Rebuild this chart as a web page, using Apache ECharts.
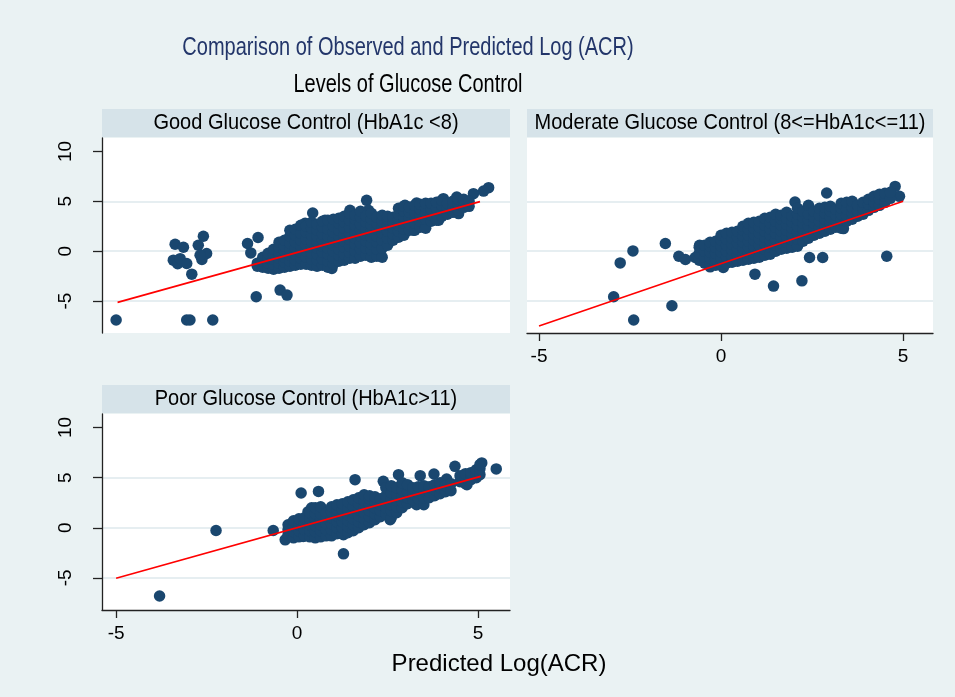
<!DOCTYPE html>
<html>
<head>
<meta charset="utf-8">
<script src="https://cdn.jsdelivr.net/npm/echarts@6/dist/echarts.min.js"></script>
<style>html,body{margin:0;padding:0;background:#EAF2F3;}#chart{width:955px;height:697px;}</style>
</head>
<body>
<div id="chart"></div>
<script>
// ---------- DATA ----------
const mainTitle = "Comparison of Observed and Predicted Log (ACR)";
const subTitle = "Levels of Glucose Control";
const xAxisTitle = "Predicted Log(ACR)";
const panelTitles = ["Good Glucose Control (HbA1c <8)", "Moderate Glucose Control (8<=HbA1c<=11)", "Poor Glucose Control (HbA1c>11)"];
const xTickValues = [-5, 0, 5];
const yTickValues = [-5, 0, 5, 10];
const gridValues = [-5, 0, 5];

// observed vs predicted (x = predicted, y = observed)
const goodObs = [
[-5.0,-6.9],[-3.37,0.7],[-3.14,0.4],[-3.42,-0.9],[-3.3,-1.25],[-3.23,-0.75],[-3.05,-1.23],[-2.91,-2.3],
[-3.05,-6.9],[-2.96,-6.9],[-2.33,-6.9],[-2.59,1.5],[-2.73,0.6],[-2.5,-0.23],[-2.63,-0.83],[-2.68,-0.4],
[-1.37,0.77],[-1.08,1.37],[-1.28,-0.17],[-1.13,-4.57],[-0.47,-3.9],[-0.28,-4.4],[0.43,3.83],[1.92,5.1],
[5.29,6.37],[5.15,6.03],[4.87,5.77],[4.46,3.77],[3.91,3.1],[0.96,-1.73],[3.21,2.1],[1.6,-0.57],[2.29,-0.4],
[1.97,4.1],[1.46,4.1],[2.98,4.6],[3.3,4.83],[4.04,5.27],[4.41,5.43],[0.77,3.1],[0.22,2.8],
[-1.1,-1.2],[-1.1,-1.5],
[-0.95,-1.6],[-0.95,-1.0],[-0.95,-0.6],
[-0.8,-1.7],[-0.8,-1.2],[-0.8,-0.7],[-0.8,-0.2],
[-0.65,-1.8],[-0.65,-1.3],[-0.65,-0.8],[-0.65,-0.3],[-0.65,0.2],
[-0.5,-1.7],[-0.5,-1.2],[-0.5,-0.7],[-0.5,-0.2],[-0.5,0.4],[-0.5,0.9],
[-0.35,-1.6],[-0.35,-1.1],[-0.35,-0.6],[-0.35,0.0],[-0.35,0.5],[-0.35,1.1],
[-0.2,-1.5],[-0.2,-1.0],[-0.2,-0.4],[-0.2,0.2],[-0.2,0.8],[-0.2,1.5],[-0.2,2.1],
[-0.05,-1.4],[-0.05,-0.9],[-0.05,-0.3],[-0.05,0.3],[-0.05,0.9],[-0.05,1.6],[-0.05,2.2],
[0.1,-1.3],[0.1,-0.7],[0.1,-0.1],[0.1,0.5],[0.1,1.1],[0.1,1.8],[0.1,2.6],
[0.25,-1.3],[0.25,-0.6],[0.25,0.0],[0.25,0.6],[0.25,1.2],[0.25,1.9],[0.25,2.5],
[0.4,-1.4],[0.4,-0.8],[0.4,-0.2],[0.4,0.4],[0.4,1.0],[0.4,1.6],[0.4,2.3],[0.4,2.9],
[0.55,-1.5],[0.55,-0.9],[0.55,-0.3],[0.55,0.3],[0.55,0.9],[0.55,1.5],[0.55,2.1],[0.55,2.7],
[0.7,-1.4],[0.7,-0.8],[0.7,-0.1],[0.7,0.5],[0.7,1.1],[0.7,1.7],[0.7,2.4],[0.7,3.0],
[0.85,-1.6],[0.85,-1.0],[0.85,-0.3],[0.85,0.3],[0.85,0.9],[0.85,1.5],[0.85,2.2],[0.85,3.1],
[1.0,-1.3],[1.0,-0.7],[1.0,0.0],[1.0,0.6],[1.0,1.2],[1.0,1.9],[1.0,2.5],[1.0,3.2],
[1.15,-1.0],[1.15,-0.4],[1.15,0.2],[1.15,0.9],[1.15,1.5],[1.15,2.1],[1.15,2.8],[1.15,3.3],
[1.3,-0.9],[1.3,-0.3],[1.3,0.4],[1.3,1.0],[1.3,1.6],[1.3,2.3],[1.3,2.9],[1.3,3.5],
[1.45,-0.7],[1.45,-0.1],[1.45,0.5],[1.45,1.2],[1.45,1.8],[1.45,2.4],[1.45,3.1],[1.45,3.8],
[1.6,-0.7],[1.6,0.0],[1.6,0.7],[1.6,1.3],[1.6,1.9],[1.6,2.6],[1.6,3.2],[1.6,3.6],
[1.75,-0.5],[1.75,0.2],[1.75,0.8],[1.75,1.5],[1.75,2.1],[1.75,2.7],[1.75,3.4],[1.75,4.0],
[1.9,-0.4],[1.9,0.3],[1.9,1.0],[1.9,1.6],[1.9,2.2],[1.9,2.9],[1.9,3.5],
[2.05,-0.6],[2.05,0.1],[2.05,0.7],[2.05,1.4],[2.05,2.0],[2.05,2.6],[2.05,3.2],[2.05,3.8],
[2.2,-0.5],[2.2,0.2],[2.2,0.9],[2.2,1.5],[2.2,2.2],[2.2,2.8],[2.2,3.4],
[2.35,-0.6],[2.35,0.3],[2.35,1.1],[2.35,1.8],[2.35,2.4],[2.35,3.0],[2.35,3.6],
[2.5,0.6],[2.5,1.3],[2.5,2.0],[2.5,2.6],[2.5,3.2],[2.5,3.5],
[2.65,1.1],[2.65,1.7],[2.65,2.3],[2.65,2.9],[2.65,3.4],
[2.8,1.4],[2.8,2.0],[2.8,2.6],[2.8,3.2],[2.8,3.7],[2.8,4.3],
[2.95,1.6],[2.95,2.2],[2.95,2.8],[2.95,3.4],[2.95,4.0],[2.95,4.5],
[3.1,2.1],[3.1,2.7],[3.1,3.3],[3.1,3.9],[3.1,4.4],
[3.25,2.1],[3.25,2.8],[3.25,3.4],[3.25,3.9],[3.25,4.6],
[3.4,2.4],[3.4,3.0],[3.4,3.6],[3.4,4.2],[3.4,4.7],
[3.55,2.3],[3.55,3.2],[3.55,3.8],[3.55,4.4],[3.55,4.8],
[3.7,3.0],[3.7,3.6],[3.7,4.2],[3.7,4.8],
[3.85,3.1],[3.85,3.7],[3.85,4.3],[3.85,4.9],
[4.0,3.5],[4.0,4.1],[4.0,4.6],[4.0,5.1],
[4.15,3.7],[4.15,4.3],[4.15,4.8],
[4.3,3.9],[4.3,4.5],[4.3,5.0],
[4.45,4.1],[4.45,4.7],[4.45,5.2],
[4.6,4.4],[4.6,4.9],[4.6,5.2],
[4.75,4.5],[4.75,5.0]
];
const goodFit = [[-4.96,-5.13],[5.05,4.97]];

const moderateObs = [
[-2.95,-4.57],[-2.77,-1.17],[-2.42,0.03],[-2.4,-6.9],[-1.53,0.77],[-1.35,-5.47],[-1.16,-0.5],[-0.98,-0.83],
[2.9,5.83],[4.78,6.5],[4.9,5.5],[4.55,-0.5],[2.43,-0.63],[2.79,-0.63],[2.22,-2.97],[1.44,-3.5],[0.93,-2.3],
[0.06,-1.63],[-0.3,-1.57],[2.03,4.93],[-0.71,-0.63],[-0.59,0.6],[3.36,2.27],[3.87,3.77],
[-0.6,-0.9],[-0.6,-0.2],[-0.6,0.4],
[-0.45,-1.2],[-0.45,-0.6],[-0.45,0.0],[-0.45,0.6],
[-0.3,-1.3],[-0.3,-0.7],[-0.3,-0.1],[-0.3,0.5],[-0.3,0.9],
[-0.15,-1.4],[-0.15,-0.8],[-0.15,-0.2],[-0.15,0.4],[-0.15,1.0],
[0.0,-1.3],[0.0,-0.7],[0.0,-0.1],[0.0,0.5],[0.0,1.1],[0.0,1.6],
[0.15,-1.2],[0.15,-0.6],[0.15,0.0],[0.15,0.6],[0.15,1.2],[0.15,1.8],
[0.3,-1.1],[0.3,-0.5],[0.3,0.1],[0.3,0.7],[0.3,1.3],[0.3,1.9],
[0.45,-1.0],[0.45,-0.4],[0.45,0.2],[0.45,0.8],[0.45,1.4],[0.45,2.0],
[0.6,-0.9],[0.6,-0.3],[0.6,0.3],[0.6,0.9],[0.6,1.5],[0.6,2.1],[0.6,2.5],
[0.75,-0.8],[0.75,-0.2],[0.75,0.4],[0.75,1.0],[0.75,1.6],[0.75,2.2],[0.75,2.8],
[0.9,-0.7],[0.9,-0.1],[0.9,0.5],[0.9,1.1],[0.9,1.7],[0.9,2.3],[0.9,2.9],
[1.05,-0.6],[1.05,0.0],[1.05,0.6],[1.05,1.2],[1.05,1.8],[1.05,2.4],[1.05,3.0],
[1.2,-0.4],[1.2,0.2],[1.2,0.8],[1.2,1.4],[1.2,2.0],[1.2,2.6],[1.2,3.3],
[1.35,-0.3],[1.35,0.4],[1.35,1.0],[1.35,1.6],[1.35,2.2],[1.35,2.8],[1.35,3.4],
[1.5,0.0],[1.5,0.6],[1.5,1.2],[1.5,1.8],[1.5,2.4],[1.5,3.0],[1.5,3.7],
[1.65,0.2],[1.65,0.8],[1.65,1.4],[1.65,2.0],[1.65,2.6],[1.65,3.2],[1.65,3.6],
[1.8,0.3],[1.8,0.9],[1.8,1.5],[1.8,2.1],[1.8,2.7],[1.8,3.3],[1.8,3.9],
[1.95,0.4],[1.95,1.1],[1.95,1.7],[1.95,2.3],[1.95,2.9],[1.95,3.5],
[2.1,0.5],[2.1,1.2],[2.1,1.9],[2.1,2.5],[2.1,3.1],[2.1,3.7],[2.1,4.3],
[2.25,1.0],[2.25,1.6],[2.25,2.2],[2.25,2.8],[2.25,3.4],[2.25,4.0],
[2.4,1.3],[2.4,1.9],[2.4,2.5],[2.4,3.1],[2.4,3.7],[2.4,4.6],
[2.55,1.6],[2.55,2.2],[2.55,2.8],[2.55,3.4],[2.55,4.0],
[2.7,1.8],[2.7,2.4],[2.7,3.0],[2.7,3.6],[2.7,4.3],
[2.85,2.0],[2.85,2.6],[2.85,3.2],[2.85,3.8],[2.85,4.4],
[3.0,2.2],[3.0,2.8],[3.0,3.4],[3.0,4.0],[3.0,4.5],
[3.15,2.4],[3.15,3.0],[3.15,3.6],[3.15,4.2],
[3.3,2.3],[3.3,3.1],[3.3,3.7],[3.3,4.3],[3.3,4.8],
[3.45,3.0],[3.45,3.6],[3.45,4.2],[3.45,4.9],
[3.6,3.2],[3.6,3.8],[3.6,4.4],[3.6,5.0],
[3.75,3.5],[3.75,4.0],[3.75,4.6],
[3.9,3.7],[3.9,4.3],[3.9,4.9],
[4.05,4.1],[4.05,4.7],[4.05,5.2],
[4.2,4.4],[4.2,4.9],[4.2,5.5],
[4.35,4.6],[4.35,5.2],[4.35,5.7],
[4.5,4.9],[4.5,5.5],[4.5,5.8],
[4.65,5.3],[4.65,5.9]
];
const moderateFit = [[-5.0,-7.5],[5.0,5.0]];

const poorObs = [
[-3.8,-6.8],[-2.24,-0.27],[-0.66,-0.27],[0.11,3.47],[1.28,-2.6],[1.6,4.8],[0.59,3.63],[5.5,5.87],
[5.1,6.47],[4.36,6.13],[3.78,5.37],[3.4,5.2],[2.8,5.3],[2.38,4.63],[4.69,4.3],[4.13,4.87],[3.3,2.3],
[2.57,0.8],[0.4,2.0],[0.3,1.6],[-0.33,-1.2],[0.17,-0.87],[1.28,-0.7],
[-0.25,-0.7],[-0.25,-0.2],[-0.25,0.3],
[-0.1,-1.0],[-0.1,-0.4],[-0.1,0.2],[-0.1,0.7],
[0.05,-0.9],[0.05,-0.3],[0.05,0.3],[0.05,0.9],
[0.2,-0.8],[0.2,-0.2],[0.2,0.4],[0.2,1.0],
[0.35,-0.9],[0.35,-0.3],[0.35,0.3],[0.35,0.9],[0.35,1.5],
[0.5,-1.0],[0.5,-0.4],[0.5,0.2],[0.5,0.8],[0.5,1.4],[0.5,2.0],
[0.65,-0.9],[0.65,-0.3],[0.65,0.3],[0.65,0.9],[0.65,1.4],[0.65,2.1],
[0.8,-0.8],[0.8,-0.2],[0.8,0.4],[0.8,1.0],[0.8,1.5],
[0.95,-0.8],[0.95,-0.2],[0.95,0.4],[0.95,1.0],[0.95,1.6],[0.95,2.1],
[1.1,-0.6],[1.1,0.0],[1.1,0.6],[1.1,1.2],[1.1,1.8],[1.1,2.3],
[1.25,-0.6],[1.25,0.0],[1.25,0.6],[1.25,1.2],[1.25,1.8],[1.25,2.4],
[1.4,-0.5],[1.4,0.1],[1.4,0.7],[1.4,1.3],[1.4,1.9],[1.4,2.6],
[1.55,-0.3],[1.55,0.3],[1.55,0.9],[1.55,1.5],[1.55,2.1],[1.55,2.8],
[1.7,0.0],[1.7,0.6],[1.7,1.2],[1.7,1.8],[1.7,2.4],[1.7,3.0],
[1.85,0.3],[1.85,0.9],[1.85,1.5],[1.85,2.1],[1.85,2.7],[1.85,3.3],
[2.0,0.5],[2.0,1.1],[2.0,1.7],[2.0,2.3],[2.0,2.9],[2.0,3.2],
[2.15,0.8],[2.15,1.4],[2.15,2.0],[2.15,2.6],[2.15,3.1],
[2.3,1.1],[2.3,1.7],[2.3,2.3],[2.3,2.9],
[2.45,1.4],[2.45,2.0],[2.45,2.6],[2.45,3.2],[2.45,4.0],
[2.6,1.0],[2.6,1.7],[2.6,2.3],[2.6,2.9],[2.6,3.5],[2.6,4.2],
[2.75,1.5],[2.75,2.1],[2.75,2.7],[2.75,3.3],[2.75,4.0],
[2.9,2.0],[2.9,2.6],[2.9,3.2],[2.9,3.8],[2.9,4.5],
[3.05,2.4],[3.05,3.0],[3.05,3.6],[3.05,4.3],
[3.2,2.8],[3.2,3.4],[3.2,4.0],
[3.35,2.9],[3.35,3.5],[3.35,4.1],
[3.5,2.3],[3.5,3.0],[3.5,3.7],[3.5,4.2],
[3.65,3.0],[3.65,3.6],[3.65,4.1],
[3.8,3.2],[3.8,3.8],[3.8,4.3],
[3.95,3.4],[3.95,4.0],[3.95,4.5],
[4.1,3.6],[4.1,4.2],
[4.25,3.7],[4.25,4.4],
[4.5,4.6],[4.5,5.2],
[4.65,4.4],[4.65,5.0],[4.65,5.4],
[4.8,4.8],[4.8,5.3],[4.8,5.5],
[4.95,5.0],[4.95,5.5],[4.95,5.8],
[5.05,5.3],[5.05,5.9],[5.05,6.3]
];
const poorFit = [[-5.0,-5.03],[5.07,5.13]];

// ---------- STYLE ----------
const FONT = '"Liberation Sans", Arial, sans-serif';
const NAVY = '#1A476F';
const BG = '#EAF2F3';
const HEADER = '#D6E3E9';
const GRIDLINE = '#E6EEF1';
const AXIS = '#222222';

const grids = [
  {left: 102, top: 138, width: 408, height: 195},
  {left: 527, top: 138, width: 406, height: 195},
  {left: 102, top: 414, width: 408, height: 196}
];
const xRanges = [[-5.39, 5.88], [-5.33, 5.82], [-5.39, 5.88]];
const yRange = [-8.2, 11.35];
const showX = [false, true, true];
const showY = [true, false, true];

const chart = echarts.init(document.getElementById('chart'), null, {renderer: 'canvas'});

const xAxes = grids.map((g, i) => ({
  type: 'value', gridIndex: i, min: xRanges[i][0], max: xRanges[i][1],
  show: true,
  axisLine: {show: showX[i], onZero: false, lineStyle: {color: AXIS, width: 1.3}},
  axisTick: {show: showX[i], length: 8, customValues: xTickValues, lineStyle: {color: AXIS, width: 1.3}},
  axisLabel: {show: showX[i], customValues: xTickValues, margin: 14, fontSize: 19, color: '#000', fontFamily: FONT},
  splitLine: {show: false}
}));
const yAxes = grids.map((g, i) => ({
  type: 'value', gridIndex: i, min: yRange[0], max: yRange[1],
  show: true,
  axisLine: {show: showY[i], onZero: false, lineStyle: {color: AXIS, width: 1.3}},
  axisTick: {show: showY[i], length: 9, customValues: yTickValues, lineStyle: {color: AXIS, width: 1.3}},
  axisLabel: {show: showY[i], customValues: yTickValues, rotate: 90, margin: 27, fontSize: 19, color: '#000', fontFamily: FONT},
  splitLine: {show: false}
}));

const obsSets = [goodObs, moderateObs, poorObs];
const fitSets = [goodFit, moderateFit, poorFit];
const series = [];
obsSets.forEach((obs, i) => {
  series.push({
    type: 'scatter', xAxisIndex: i, yAxisIndex: i, data: [], z: 0, silent: true,
    markLine: {silent: true, z: 0, symbol: 'none', label: {show: false},
      lineStyle: {color: GRIDLINE, width: 2, type: 'solid'},
      data: gridValues.map(v => ({yAxis: v}))}
  });
  series.push({
    type: 'scatter', xAxisIndex: i, yAxisIndex: i, data: obs, z: 2,
    symbol: 'circle', symbolSize: 11.5, itemStyle: {color: NAVY, opacity: 1}
  });
  series.push({
    type: 'line', xAxisIndex: i, yAxisIndex: i, data: fitSets[i], z: 3,
    symbol: 'none', lineStyle: {color: '#FF0000', width: 1.6}
  });
});

const graphics = [];
grids.forEach((g, i) => {
  graphics.push({type: 'rect', shape: {x: g.left, y: g.top - 29, width: g.width, height: 28}, style: {fill: HEADER}, z: 0});
  graphics.push({type: 'text', x: g.left + g.width / 2, y: g.top - 15, scaleY: 1.12, style: {text: panelTitles[i], fill: '#000', font: '20px ' + FONT, textAlign: 'center', textVerticalAlign: 'middle'}, z: 1});
});
graphics.push({type: 'text', x: 499, y: 664, style: {text: xAxisTitle, fill: '#000', font: '24px ' + FONT, textAlign: 'center', textVerticalAlign: 'middle'}});
graphics.push({type: 'text', x: 408, y: 48, scaleY: 1.25, style: {text: mainTitle, fill: '#23366A', font: '20px ' + FONT, textAlign: 'center', textVerticalAlign: 'middle'}});
graphics.push({type: 'text', x: 408, y: 85, scaleY: 1.25, style: {text: subTitle, fill: '#000', font: '20px ' + FONT, textAlign: 'center', textVerticalAlign: 'middle'}});

chart.setOption({
  backgroundColor: BG,
  animation: false,
  grid: grids.map(g => Object.assign({show: true, backgroundColor: '#FFFFFF', borderWidth: 0, containLabel: false, outerBoundsMode: 'none'}, g)),
  xAxis: xAxes,
  yAxis: yAxes,
  series: series,
  graphic: graphics
});
</script>
</body>
</html>
